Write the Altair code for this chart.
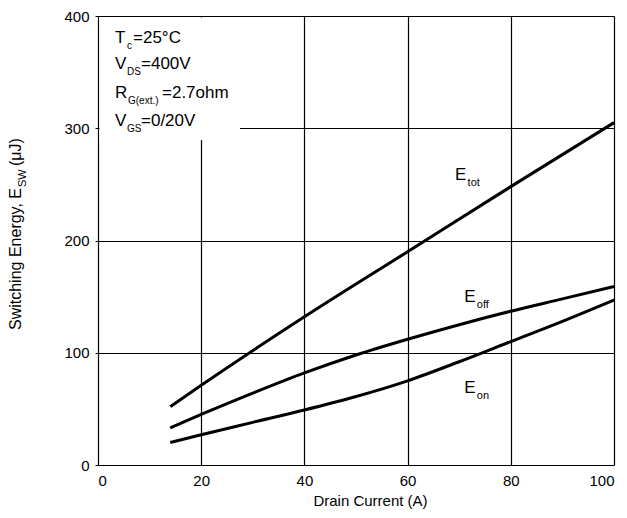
import altair as alt
import pandas as pd

# ---- data ----
cur_tot = [14, 20, 40, 60, 80, 100]
e_tot = [52, 71, 132, 190, 248, 305]
current = [14, 20, 30, 40, 50, 60, 70, 80, 90, 100]
e_off = [33, 45, 64, 82, 98, 112, 125, 137, 148, 159]
e_on = [20, 27, 38, 49, 61, 75, 92, 110, 128, 147]

label_names = ["tot", "off", "on"]
label_x = [69.2, 71.0, 71.0]
label_y = [254, 145, 64]

x_ticks = [0, 20, 40, 60, 80, 100]
y_ticks = [0, 100, 200, 300, 400]

FONT = "Liberation Sans"
W, H = 516, 449

rows = []
for name, xs_, vals in [("E_tot", cur_tot, e_tot), ("E_off", current, e_off),
                        ("E_on", current, e_on)]:
    for c, v in zip(xs_, vals):
        rows.append({"series": name, "I": c, "E": v})
df = pd.DataFrame(rows)
labels = pd.DataFrame({"sub": label_names, "x": label_x, "y": label_y, "main": ["E"] * 3})

xs = alt.Scale(domain=[0, 100], nice=False, zero=False)
ys = alt.Scale(domain=[0, 400], nice=False)

base = alt.Chart(df).encode(
    x=alt.X("I:Q", scale=xs,
            axis=alt.Axis(values=x_ticks, title="Drain Current (A)", grid=True,
                          gridColor="black", gridWidth=1.2, gridOpacity=1,
                          domain=False, ticks=False, tickSize=0, labelPadding=8,
                          labelFont=FONT, labelFontSize=15, labelColor="black",
                          titleFont=FONT, titleFontSize=15, titleFontWeight="normal",
                          titleColor="black", titleX=272, titleY=40,
                          titleBaseline="alphabetic")),
    y=alt.Y("E:Q", scale=ys,
            axis=alt.Axis(values=y_ticks, title=None, grid=True,
                          gridColor="black", gridWidth=1.2, gridOpacity=1,
                          domain=False, ticks=True, tickSize=3, tickColor="black",
                          labelPadding=6, labelFont=FONT, labelFontSize=15,
                          labelColor="black")),
)

lines = base.mark_line(color="black", strokeWidth=3, interpolate="monotone").encode(
    detail="series:N")

# white annotation box covering grid
box = alt.Chart(pd.DataFrame({"a": [0]})).mark_rect(color="white").encode(
    x=alt.value(1.5), x2=alt.value(142), y=alt.value(1.5), y2=alt.value(124))

lab_main = alt.Chart(labels).mark_text(font=FONT, fontSize=17, align="left",
                                        baseline="alphabetic", color="black").encode(
    x=alt.X("x:Q", scale=xs), y=alt.Y("y:Q", scale=ys), text="main:N")
lab_sub = alt.Chart(labels).mark_text(font=FONT, fontSize=11, align="left",
                                       baseline="alphabetic", color="black",
                                       dx=12.5, dy=6).encode(
    x=alt.X("x:Q", scale=xs), y=alt.Y("y:Q", scale=ys), text="sub:N")

# annotation pieces: (text, x px, y px, size)
ann_pieces = [
    ("T", 17, 27, 17), ("c", 29, 33, 10), ("=25°C", 35, 27, 17),
    ("V", 17, 53, 17), ("DS", 29, 59, 10), ("=400V", 43, 53, 17),
    ("R", 17, 82, 17), ("G(ext.)", 30, 88, 10), ("=2.7ohm", 64, 82, 17),
    ("V", 17, 110, 17), ("GS", 29, 116, 10), ("=0/20V", 43, 110, 17),
]
ann_layers = []
for t, px, py, s in ann_pieces:
    ann_layers.append(
        alt.Chart(pd.DataFrame({"a": [0]})).mark_text(
            font=FONT, fontSize=s, align="left", baseline="alphabetic",
            color="black", text=t).encode(x=alt.value(px), y=alt.value(py)))

# rotated y-axis title with subscript
ytitle_pieces = [
    ("Switching Energy, E", -77, 314, 16),
    ("SW", -72, 171, 11),
    ("(μJ)", -77, 150, 16),
]
for t, px, py, s in ytitle_pieces:
    ann_layers.append(
        alt.Chart(pd.DataFrame({"a": [0]})).mark_text(
            font=FONT, fontSize=s, align="left", baseline="alphabetic",
            color="black", angle=270, text=t).encode(x=alt.value(px), y=alt.value(py)))

chart = alt.layer(lines, box, lab_main, lab_sub, *ann_layers).properties(
    width=W, height=H,
    autosize=alt.AutoSizeParams(type="none"),
    padding={"left": 90, "top": 8, "right": 5, "bottom": 45},
).configure_view(stroke="black", strokeWidth=1.5).configure(background="white")

chart.save("out.html", embed_options={"renderer": "svg", "actions": False})
